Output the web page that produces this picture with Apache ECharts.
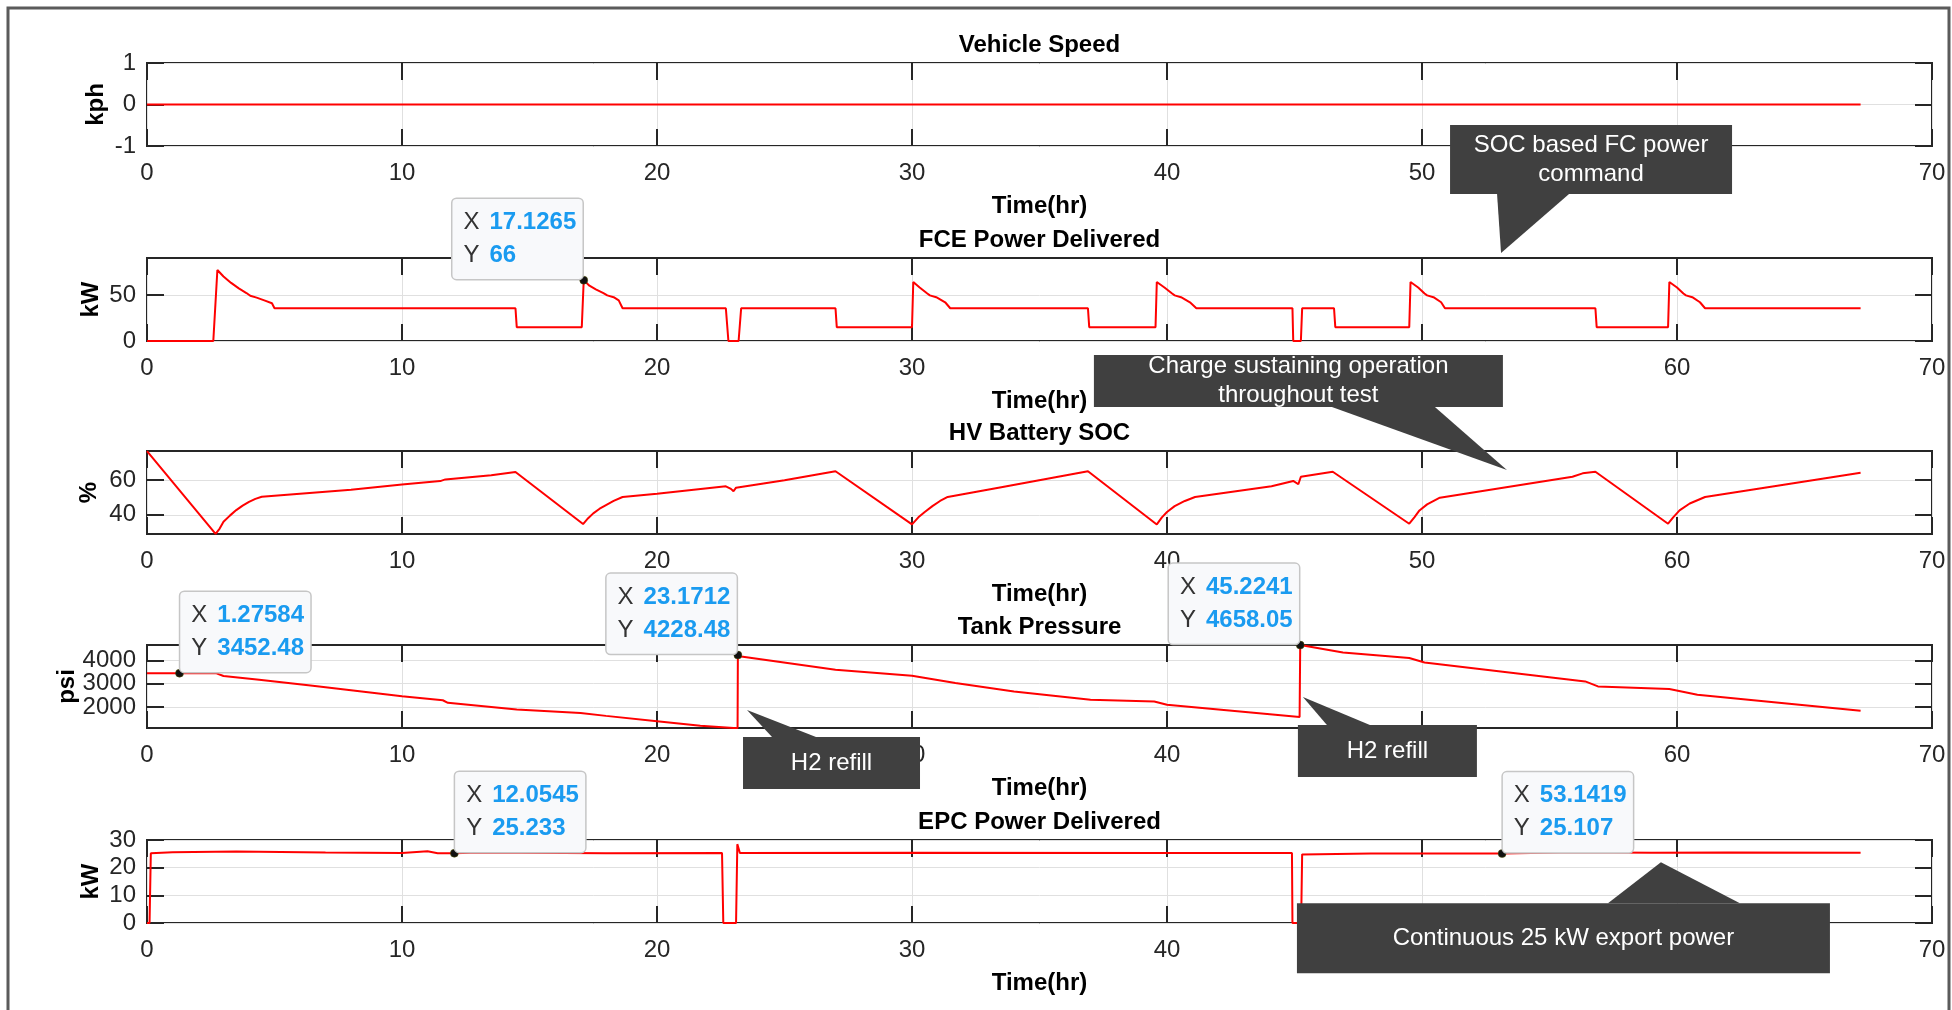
<!DOCTYPE html>
<html>
<head>
<meta charset="utf-8">
<title>Vehicle test time history</title>
<script src="https://cdn.jsdelivr.net/npm/echarts@6/dist/echarts.min.js"></script>
<style>
  html, body { margin: 0; padding: 0; background: #ffffff; }
  #chart { width: 1952px; height: 1010px; }
</style>
</head>
<body>
<div id="chart"></div>
<script>
// ---------------- data (time in hours) ----------------
const xTicks = [0, 10, 20, 30, 40, 50, 60, 70];

const speedTime = [0, 67.2];
const speedKph  = [0, 0];

const fceTime = [0, 2.6, 2.76, 3.0, 3.3, 3.6, 3.9, 4.05, 4.12, 4.3, 4.6, 4.9, 5.0,
  14.45, 14.5, 17.05, 17.1265, 17.35, 17.6, 17.9, 18.05, 18.12, 18.3, 18.5, 18.65,
  22.7, 22.8, 23.2, 23.3, 27.0, 27.05, 30.0, 30.05, 30.3, 30.6, 30.7, 30.76, 30.95, 31.3, 31.5,
  36.9, 36.95, 39.55, 39.6, 39.9, 40.2, 40.3, 40.36, 40.55, 40.9, 41.15,
  44.92, 44.95, 45.25, 45.3, 46.55, 46.6, 49.5, 49.55, 49.85, 50.1, 50.2, 50.26, 50.45, 50.75, 50.9,
  56.8, 56.85, 59.65, 59.7, 60.0, 60.25, 60.35, 60.41, 60.6, 60.9, 61.1, 67.2];
const fceKw = [0, 0, 77, 70, 63, 57, 52, 49, 51, 47, 44, 41, 35.5,
  35.5, 15, 15, 66, 60, 56, 52, 49.5, 51, 47.5, 44, 35.5,
  35.5, 0, 0, 35.5, 35.5, 15, 15, 64, 58, 51.5, 49.5, 51, 47.5, 42, 35.5,
  35.5, 15, 15, 64, 58, 51.5, 49.5, 51, 47.5, 42, 35.5,
  35.5, 0, 0, 35.5, 35.5, 15, 15, 64, 58, 51.5, 49.5, 51, 47.5, 42, 35.5,
  35.5, 15, 15, 64, 58, 51.5, 49.5, 51, 47.5, 42, 35.5, 35.5];

const socTime = [0, 2.69, 2.85, 3.0, 3.25, 3.5, 3.75, 4.0, 4.25, 4.5, 5.0, 8.0, 10.0, 11.5, 11.7, 13.5, 14.45,
  17.1, 17.3, 17.5, 17.75, 18.0, 18.3, 18.65, 20.0, 22.7, 22.9, 23.0, 23.1, 25.0, 27.0,
  30.0, 30.25, 30.5, 30.8, 31.1, 31.4, 33.5, 36.9,
  39.6, 39.8, 40.0, 40.3, 40.7, 41.1, 44.1, 44.95, 45.15, 45.25, 46.5,
  49.5, 49.7, 49.9, 50.2, 50.7, 55.9, 56.3, 56.8,
  59.65, 59.85, 60.1, 60.5, 61.1, 64.0, 67.2];
const socPct = [76.9, 28.9, 32, 36, 39.5, 42.7, 45.3, 47.5, 49.2, 50.4, 51, 54.5, 57.5, 59.5, 60.5, 62.9, 64.8,
  34.6, 38, 40.8, 43.5, 45.6, 48, 50.3, 52.2, 56.5, 55, 53.6, 55.7, 60, 65.2,
  34.4, 38.5, 41.6, 45, 48, 50.3, 56, 65.2,
  34.4, 38.5, 41.6, 45, 48, 50.3, 56.5, 59.6, 57.7, 62, 64.9,
  34.8, 38.5, 42.5, 46, 49.9, 62, 64, 64.9,
  34.8, 38.5, 42.5, 46.5, 50.3, 57, 64.3];

const tankTime = [0, 1.27584, 2.7, 3.0, 4.4, 6.5, 10.0, 11.6, 11.8, 14.5, 17.0, 18.0, 20.0, 21.7, 23.0, 23.16,
  23.1712, 23.3, 27.0, 30.0, 31.7, 34.0, 37.0, 39.5, 40.0, 45.2,
  45.2241, 46.9, 49.5, 50.1, 56.4, 56.9, 59.7, 60.8, 67.2];
const tankPsi = [3448, 3452.48, 3455, 3330, 3170, 2910, 2460, 2290, 2180, 1890, 1745, 1620, 1390, 1200, 1100, 1100,
  4228.48, 4170, 3600, 3342, 3030, 2670, 2313, 2240, 2100, 1571,
  4658.05, 4341, 4100, 3913, 3099, 2883, 2772, 2527, 1842];

const epcTime = [0, 0.1, 0.15, 1.0, 3.5, 7.0, 10.0, 11.0, 11.4, 12.0545, 13.0, 18.0, 22.55, 22.6, 23.1, 23.15, 23.25,
  30.0, 40.0, 44.9, 44.92, 45.26, 45.3, 48.0, 53.1419, 56.0, 59.0, 62.0, 67.2];
const epcKw = [0, 0, 25.2, 25.6, 25.8, 25.5, 25.3, 25.9, 25.2, 25.233, 25.5, 25.2, 25.3, 0, 0, 28.5, 25.3,
  25.4, 25.3, 25.3, 0, 0, 24.8, 25.1, 25.107, 25.6, 25.4, 25.5, 25.4];

const panelTitles = ['Vehicle Speed', 'FCE Power Delivered', 'HV Battery SOC', 'Tank Pressure', 'EPC Power Delivered'];
const panelUnits  = ['kph', 'kW', '%', 'psi', 'kW'];
const yLimits     = [[-1, 1], [0, 90], [28.85, 76.95], [1100, 4660], [0, 30]];
const yTicks      = [[-1, 0, 1], [0, 50], [40, 60], [2000, 3000, 4000], [0, 10, 20, 30]];
const seriesTime  = [speedTime, fceTime, socTime, tankTime, epcTime];
const seriesValue = [speedKph, fceKw, socPct, tankPsi, epcKw];

// data cursors: panel index, x, y
const cursorPanel = [1, 3, 3, 3, 4, 4];
const cursorX     = [17.1265, 1.27584, 23.1712, 45.2241, 12.0545, 53.1419];
const cursorY     = [66, 3452.48, 4228.48, 4658.05, 25.233, 25.107];

// annotations: panel, pointer tip in data units, text
const noteText  = [['SOC based FC power', 'command'], ['Charge sustaining operation', 'throughout test'],
                   ['H2 refill'], ['H2 refill'], ['Continuous 25 kW export power']];
const notePanel = [1, 2, 3, 3, 4];
const noteTipX  = [53.1, 53.33, 23.53, 45.33, 59.37];
const noteTipY  = [95.4, 65.9, 1872, 2430, 22.0];

// ---------------- layout & style ----------------
const FONT = '"Liberation Sans", Arial, Helvetica, sans-serif';
const INK = '#262626';
const GRID_LINE = '#e0e0e0';
const RED = '#ff0000';
const plotLeft = 147, plotWidth = 1785, plotHeight = 83;
const plotTops = [63, 258, 451, 645, 840];
const unitGap = [39, 44, 46, 68, 44];
const cursorSide = ['left', 'right', 'left', 'left', 'right', 'right'];
const TIP_W = 108, TIP_PAD = 11;
// box [dx, dy, w, h] and pointer base [x0, x1] relative to the tip
const noteBox  = [[-51, -128, 282, 69], [-413, -115, 409, 52], [-4, 27, 177, 52], [-5, 28, 179, 52], [-364, 41, 533, 70]];
const noteBase = [[-4, 68], [-175, -72], [25, 69], [24, 67], [-53, 79]];

const zip = (a, b) => a.map((t, i) => [t, b[i]]);
const plain = v => String(v);
const tickStyle = { inside: true, length: 17, lineStyle: { color: INK, width: 2 } };
const noLine = { show: false, onZero: false };
const Y_PER_GRID = 3;   // left (labelled), left (interleaved labels), right (ticks only)

const grids = [], xAxes = [], yAxes = [], series = [];
panelTitles.forEach((title, i) => {
  grids.push({ left: plotLeft, top: plotTops[i], width: plotWidth, height: plotHeight,
    show: true, borderColor: INK, borderWidth: 2, backgroundColor: 'transparent' });

  const xBase = { gridIndex: i, type: 'value', min: xTicks[0], max: xTicks[xTicks.length - 1], interval: 10,
    axisLine: noLine, axisTick: tickStyle };
  xAxes.push(Object.assign({}, xBase, {
    position: 'bottom',
    axisLabel: { margin: 15, fontSize: 24, color: INK, fontFamily: FONT, formatter: plain,
      showMinLabel: true, showMaxLabel: true, hideOverlap: false },
    splitLine: { show: true, lineStyle: { color: GRID_LINE, width: 1 } },
    name: 'Time(hr)', nameLocation: 'middle', nameGap: 48, nameMoveOverlap: false,
    nameTextStyle: { fontSize: 24, fontWeight: 'bold', color: '#000', fontFamily: FONT }
  }));
  xAxes.push(Object.assign({}, xBase, {
    position: 'top', axisLabel: { show: false }, splitLine: { show: false }
  }));

  // tick labels on the left are split over two coincident axes so that
  // closely spaced values are all printed
  const ticks = yTicks[i];
  const evenTicks = ticks.filter((v, k) => k % 2 === 0);
  const oddTicks = ticks.filter((v, k) => k % 2 === 1);
  const yBase = { gridIndex: i, type: 'value', min: yLimits[i][0], max: yLimits[i][1], axisLine: noLine };
  const yLabel = vals => ({ customValues: vals, margin: 11, fontSize: 24, color: INK, fontFamily: FONT,
    formatter: plain, hideOverlap: false, showMinLabel: true, showMaxLabel: true });
  yAxes.push(Object.assign({}, yBase, {
    position: 'left',
    axisTick: Object.assign({ customValues: evenTicks }, tickStyle),
    axisLabel: yLabel(evenTicks),
    splitLine: { show: true, lineStyle: { color: GRID_LINE, width: 1 } },
    name: panelUnits[i], nameLocation: 'middle', nameGap: unitGap[i], nameRotate: 90, nameMoveOverlap: false,
    nameTextStyle: { fontSize: 24, fontWeight: 'bold', color: '#000', fontFamily: FONT }
  }));
  yAxes.push(Object.assign({}, yBase, {
    position: 'left', show: oddTicks.length > 0,
    axisTick: Object.assign({ customValues: oddTicks.length ? oddTicks : [yLimits[i][0]] }, tickStyle),
    axisLabel: oddTicks.length ? yLabel(oddTicks) : { show: false },
    splitLine: { show: oddTicks.length > 0, lineStyle: { color: GRID_LINE, width: 1 } }
  }));
  yAxes.push(Object.assign({}, yBase, {
    position: 'right',
    axisTick: Object.assign({ customValues: ticks }, tickStyle),
    axisLabel: { show: false }, splitLine: { show: false }
  }));

  const marks = [];
  cursorPanel.forEach((p, k) => {
    if (p !== i) return;
    const left = cursorSide[k] === 'left';
    marks.push({
      coord: [cursorX[k], cursorY[k]],
      label: {
        show: true, align: 'left', verticalAlign: 'bottom',
        position: [left ? 4 - (TIP_W + 2 * TIP_PAD + 1) : 5, 3],
        formatter: '{k|X}{v|' + cursorX[k] + '}\n{k|Y}{v|' + cursorY[k] + '}',
        backgroundColor: '#f8f9fb', borderColor: '#c6c6c6', borderWidth: 1.5, borderRadius: 4,
        padding: [7, TIP_PAD, 7, TIP_PAD], width: TIP_W,
        rich: {
          k: { fontSize: 24, color: '#333333', fontFamily: FONT, lineHeight: 33, width: 26, align: 'left' },
          v: { fontSize: 24, color: '#1a9bf0', fontWeight: 'bold', fontFamily: FONT, lineHeight: 33, align: 'left' }
        }
      }
    });
  });

  series.push({
    type: 'line', xAxisIndex: 2 * i, yAxisIndex: Y_PER_GRID * i,
    data: zip(seriesTime[i], seriesValue[i]),
    showSymbol: false, clip: false, silent: true,
    lineStyle: { color: RED, width: 2 },
    markPoint: marks.length ? {
      symbol: 'circle', symbolSize: 8, silent: true,
      itemStyle: { color: '#111111', borderColor: '#555500', borderWidth: 0.5 },
      data: marks
    } : undefined
  });
});

const chart = echarts.init(document.getElementById('chart'));
chart.setOption({
  animation: false,
  backgroundColor: '#ffffff',
  grid: grids, xAxis: xAxes, yAxis: yAxes, series: series
});

// titles, figure frame and dark annotation callouts
const graphics = [];
graphics.push({ type: 'rect', silent: true, z: 0,
  shape: { x: 8, y: 8, width: 1941, height: 1010 },
  style: { fill: 'none', stroke: '#5b5b5b', lineWidth: 3 } });

panelTitles.forEach((title, i) => {
  graphics.push({ type: 'text', silent: true, z: 10,
    style: { text: title, x: plotLeft + plotWidth / 2, y: plotTops[i] - 18,
      align: 'center', verticalAlign: 'middle', fill: '#000',
      font: 'bold 24px ' + FONT } });
});

noteText.forEach((lines, k) => {
  const tip = chart.convertToPixel({ xAxisIndex: 2 * notePanel[k], yAxisIndex: Y_PER_GRID * notePanel[k] },
    [noteTipX[k], noteTipY[k]]);
  const [dx, dy, w, h] = noteBox[k];
  const bx = tip[0] + dx, by = tip[1] + dy;
  const baseY = dy < 0 ? by + h : by;
  graphics.push({ type: 'polygon', silent: true, z: 20,
    shape: { points: [[tip[0] + noteBase[k][0], baseY], [tip[0] + noteBase[k][1], baseY], [tip[0], tip[1]]] },
    style: { fill: '#404040' } });
  graphics.push({ type: 'rect', silent: true, z: 20,
    shape: { x: bx, y: by, width: w, height: h },
    style: { fill: '#404040' } });
  graphics.push({ type: 'text', silent: true, z: 21,
    style: { text: lines.join('\n'), x: bx + w / 2, y: by + h / 2,
      align: 'center', verticalAlign: 'middle', fill: '#ffffff',
      font: '24px ' + FONT, lineHeight: 29 } });
});

chart.setOption({ graphic: graphics });
</script>
</body>
</html>
